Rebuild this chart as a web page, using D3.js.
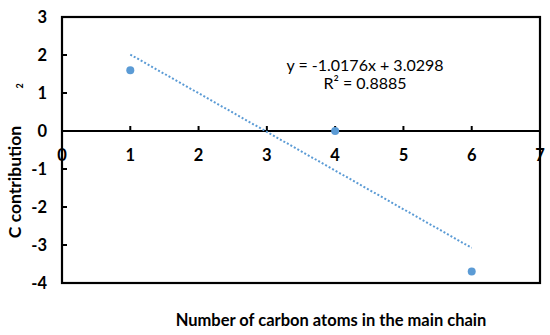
<!DOCTYPE html>
<html>
<head>
<meta charset="utf-8">
<script src="https://cdn.jsdelivr.net/npm/d3@7"></script>
<style>
  body { margin: 0; background: #fff; }
  svg text { font-family: Lato, "Open Sans", sans-serif; }
</style>
</head>
<body>
<div id="chart"></div>
<script>
// data
const xVals = [1, 4, 6];
const yVals = [1.6, 0, -3.7];
const xTicks = [0, 1, 2, 3, 4, 5, 6, 7];
const yTicks = [3, 2, 1, 0, -1, -2, -3, -4];
const slope = -1.0176, intercept = 3.0298;
const eqLabel = "y = -1.0176x + 3.0298";
const r2Label = "R² = 0.8885";

const width = 550, height = 335;
const margin = { top: 17, right: 10, bottom: 52, left: 62 };

const svg = d3.select("#chart").append("svg")
  .attr("width", width).attr("height", height);

const x = d3.scaleLinear().domain([0, 7]).range([margin.left, 540]);
const y = d3.scaleLinear().domain([-4, 3]).range([283, margin.top]);

// frame
svg.append("rect")
  .attr("x", x(0)).attr("y", y(3))
  .attr("width", x(7) - x(0)).attr("height", y(-4) - y(3))
  .attr("fill", "none").attr("stroke", "#000").attr("stroke-width", 2.2);

// y axis ticks (inside)
svg.append("g")
  .selectAll("line").data(yTicks).join("line")
  .attr("x1", x(0)).attr("x2", x(0) + 5)
  .attr("y1", d => y(d)).attr("y2", d => y(d))
  .attr("stroke", "#000").attr("stroke-width", 2);

svg.append("g")
  .selectAll("text").data(yTicks).join("text")
  .attr("x", 47).attr("y", d => y(d))
  .attr("dy", "0.36em").attr("text-anchor", "end")
  .attr("font-size", 16.5).attr("font-weight", "bold")
  .text(d => d);

// zero line with ticks
svg.append("line")
  .attr("x1", x(0)).attr("x2", x(7))
  .attr("y1", y(0)).attr("y2", y(0))
  .attr("stroke", "#000").attr("stroke-width", 2.2);

svg.append("g")
  .selectAll("line").data(xTicks).join("line")
  .attr("x1", d => x(d)).attr("x2", d => x(d))
  .attr("y1", y(0)).attr("y2", y(0) - 5)
  .attr("stroke", "#000").attr("stroke-width", 2);

svg.append("g")
  .selectAll("text").data(xTicks).join("text")
  .attr("x", d => x(d)).attr("y", y(0) + 30)
  .attr("text-anchor", "middle")
  .attr("font-size", 16.5).attr("font-weight", "bold")
  .text(d => d);

// trendline
svg.append("line")
  .attr("x1", x(d3.min(xVals))).attr("y1", y(slope * d3.min(xVals) + intercept))
  .attr("x2", x(d3.max(xVals))).attr("y2", y(slope * d3.max(xVals) + intercept))
  .attr("stroke", "#5b9bd5").attr("stroke-width", 2)
  .attr("stroke-dasharray", "2,2");

// points
svg.append("g")
  .selectAll("circle").data(xVals).join("circle")
  .attr("cx", d => x(d)).attr("cy", (d, i) => y(yVals[i]))
  .attr("r", 4).attr("fill", "#5b9bd5");

// equation
svg.append("text")
  .attr("x", 365).attr("y", 71).attr("text-anchor", "middle")
  .attr("font-size", 16).text(eqLabel);
svg.append("text")
  .attr("x", 365).attr("y", 89).attr("text-anchor", "middle")
  .attr("font-size", 16).text(r2Label);

// axis titles
svg.append("text")
  .attr("transform", "translate(21,182) rotate(-90)")
  .attr("text-anchor", "middle")
  .attr("font-size", 17.5).attr("font-weight", "bold")
  .text("C contribution");
svg.append("text")
  .attr("transform", "translate(23,86) rotate(-90)")
  .attr("text-anchor", "middle")
  .attr("font-size", 9).attr("font-weight", "bold")
  .text("2");

svg.append("text")
  .attr("x", 331).attr("y", 326).attr("text-anchor", "middle")
  .attr("font-size", 16.5).attr("font-weight", "bold")
  .text("Number of carbon atoms in the main chain");
</script>
</body>
</html>
